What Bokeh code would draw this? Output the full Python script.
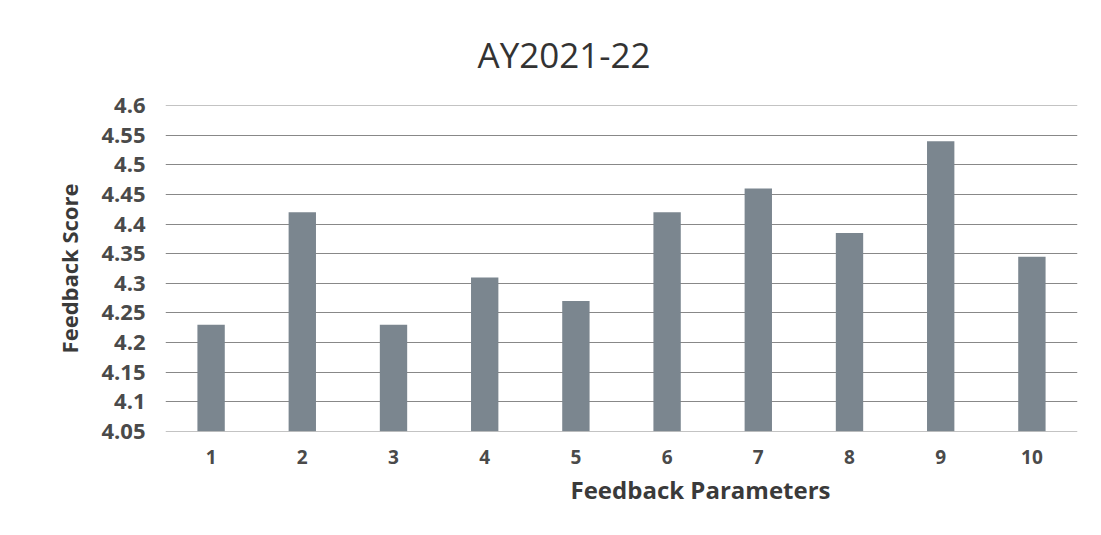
from bokeh.plotting import figure
from bokeh.models import Range1d, FixedTicker, CustomJSTickFormatter, Title
from bokeh.embed import file_html
from bokeh.resources import INLINE

title_text = "AY2021-22"
categories = ["1", "2", "3", "4", "5", "6", "7", "8", "9", "10"]
scores = [4.23, 4.42, 4.23, 4.31, 4.27, 4.42, 4.46, 4.385, 4.54, 4.345]
y_ticks = [4.05, 4.1, 4.15, 4.2, 4.25, 4.3, 4.35, 4.4, 4.45, 4.5, 4.55, 4.6]
x_label = "Feedback Parameters"
y_label = "Feedback Score"

p = figure(width=1085, height=519, x_range=categories, y_range=Range1d(4.0497, 4.6003),
           output_backend="svg", toolbar_location=None,
           min_border_left=165, min_border_right=8, min_border_top=105, min_border_bottom=88)

p.vbar(x=categories, top=scores, bottom=4.05, width=0.3, color="#7b868f", line_color=None)

p.title.text = title_text
p.title.align = "left"
p.title.offset = 312
p.title.standoff = 55
p.title.text_font = "Open Sans"
p.title.text_font_size = "35px"
p.title.text_font_style = "normal"
p.title.text_color = "#333333"

p.yaxis.ticker = FixedTicker(ticks=y_ticks)
p.yaxis.formatter = CustomJSTickFormatter(code="var s = tick.toFixed(2); if (s.endsWith('0')) s = s.slice(0, -1); return s;")
p.outline_line_color = None
for ax in (p.xaxis, p.yaxis):
    ax.axis_line_color = None
    ax.major_tick_line_color = None
    ax.minor_tick_line_color = None
    ax.major_label_text_font = "Open Sans"
    ax.major_label_text_font_style = "bold"
    ax.major_label_text_color = "#4a4a4a"
    ax.axis_label_text_font = "Open Sans"
    ax.axis_label_text_font_style = "bold"
    ax.axis_label_text_color = "#3a3a3a"

p.yaxis.major_label_text_font_size = "22px"
p.yaxis.major_label_standoff = 14
p.yaxis.axis_label = y_label
p.yaxis.axis_label_text_font_size = "22px"
p.yaxis.axis_label_standoff = 14

p.xaxis.major_label_text_font_size = "19px"
p.xaxis.major_label_standoff = 12

# x-axis title sits right of centre in the reference
xt = Title(text=x_label, align="left", offset=405, standoff=8,
           text_font="Open Sans", text_font_style="bold", text_font_size="24px",
           text_color="#3a3a3a")
p.add_layout(xt, "below")

p.xgrid.grid_line_color = None
p.ygrid.grid_line_color = "#6a6a6a"
p.ygrid.grid_line_width = 1
p.ygrid.grid_line_alpha = 0.8

open("out.html", "w").write(file_html(p, INLINE))
